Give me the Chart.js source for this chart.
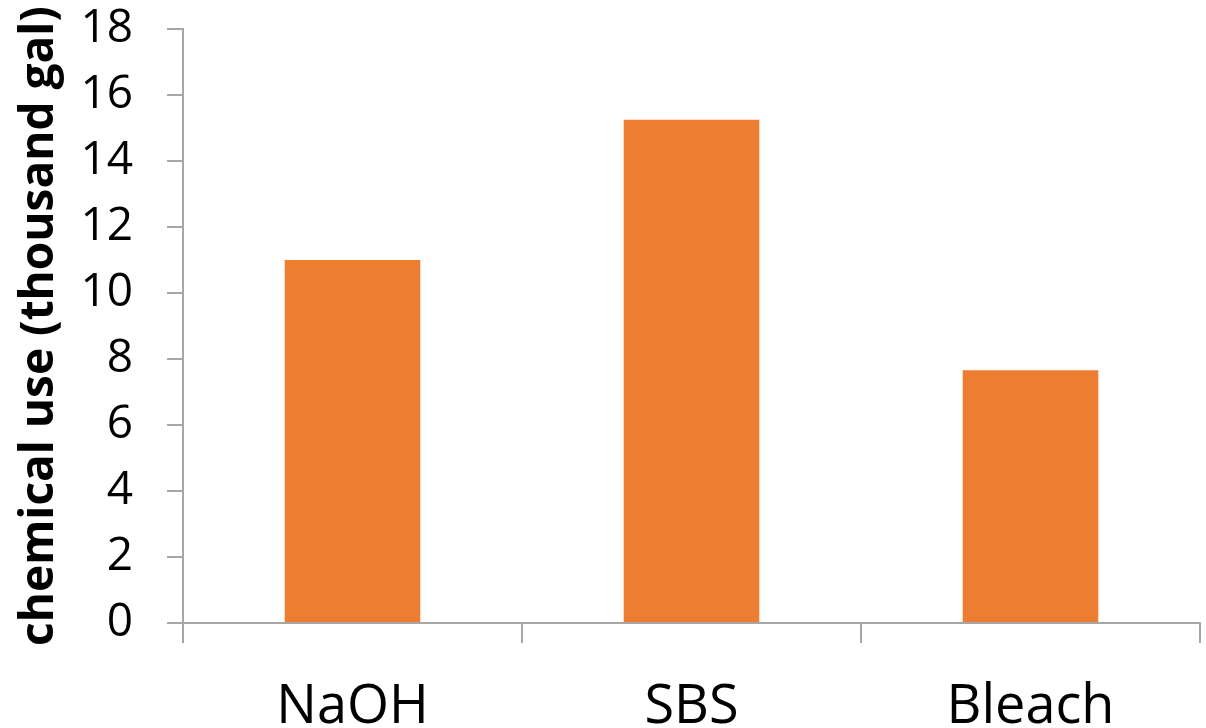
<!DOCTYPE html>
<html>
<head>
<meta charset="utf-8">
<script src="https://cdn.jsdelivr.net/npm/chart.js@4/dist/chart.umd.min.js"></script>
<style>
  html, body { margin: 0; padding: 0; background: #ffffff; }
  #wrap { width: 1206px; height: 728px; }
</style>
</head>
<body>
<div id="wrap"><canvas id="chart" width="1206" height="728"></canvas></div>
<script>
// Chemical use per treatment chemical, thousand gallons
const categories = ['NaOH', 'SBS', 'Bleach'];
const chemicalUse = [11.0, 15.25, 7.66];
const yTicks = [0, 2, 4, 6, 8, 10, 12, 14, 16, 18];

const axisGray = '#a6a6a6';
const fontFamily = '"Open Sans", "Liberation Sans", sans-serif';

new Chart(document.getElementById('chart'), {
  type: 'bar',
  data: {
    labels: categories,
    datasets: [{
      data: chemicalUse,
      backgroundColor: '#ED7D31',
      borderWidth: 0,
      barPercentage: 0.4,
      categoryPercentage: 1.0
    }]
  },
  options: {
    responsive: false,
    animation: false,
    layout: { padding: { top: 29, right: 6, bottom: 0, left: 0 } },
    plugins: { legend: { display: false }, tooltip: { enabled: false } },
    scales: {
      x: {
        grid: {
          offset: true,
          drawOnChartArea: false,
          drawTicks: true,
          tickLength: 20,
          color: axisGray,
          lineWidth: 2
        },
        border: { display: true, color: axisGray, width: 2 },
        ticks: {
          color: '#000000',
          padding: 32,
          font: { family: fontFamily, size: 54 }
        },
        afterFit: (scale) => { scale.height = 105; scale.paddingLeft = 0; scale.paddingRight = 0; }
      },
      y: {
        min: 0,
        max: 18,
        afterBuildTicks: (scale) => { scale.ticks = yTicks.map(v => ({ value: v })); },
        grid: {
          drawOnChartArea: false,
          drawTicks: true,
          tickLength: 16,
          color: axisGray,
          lineWidth: 2
        },
        border: { display: true, color: axisGray, width: 2 },
        ticks: {
          color: '#000000',
          padding: 34,
          font: { family: fontFamily, size: 46 }
        },
        title: {
          display: true,
          text: 'chemical use (thousand gal)',
          color: '#000000',
          padding: { top: 12, bottom: 0 },
          font: { family: fontFamily, size: 46, weight: 'bold' }
        },
        afterFit: (scale) => { scale.width = 183; scale.paddingTop = 0; scale.paddingBottom = 0; }
      }
    }
  }
});
</script>
</body>
</html>
